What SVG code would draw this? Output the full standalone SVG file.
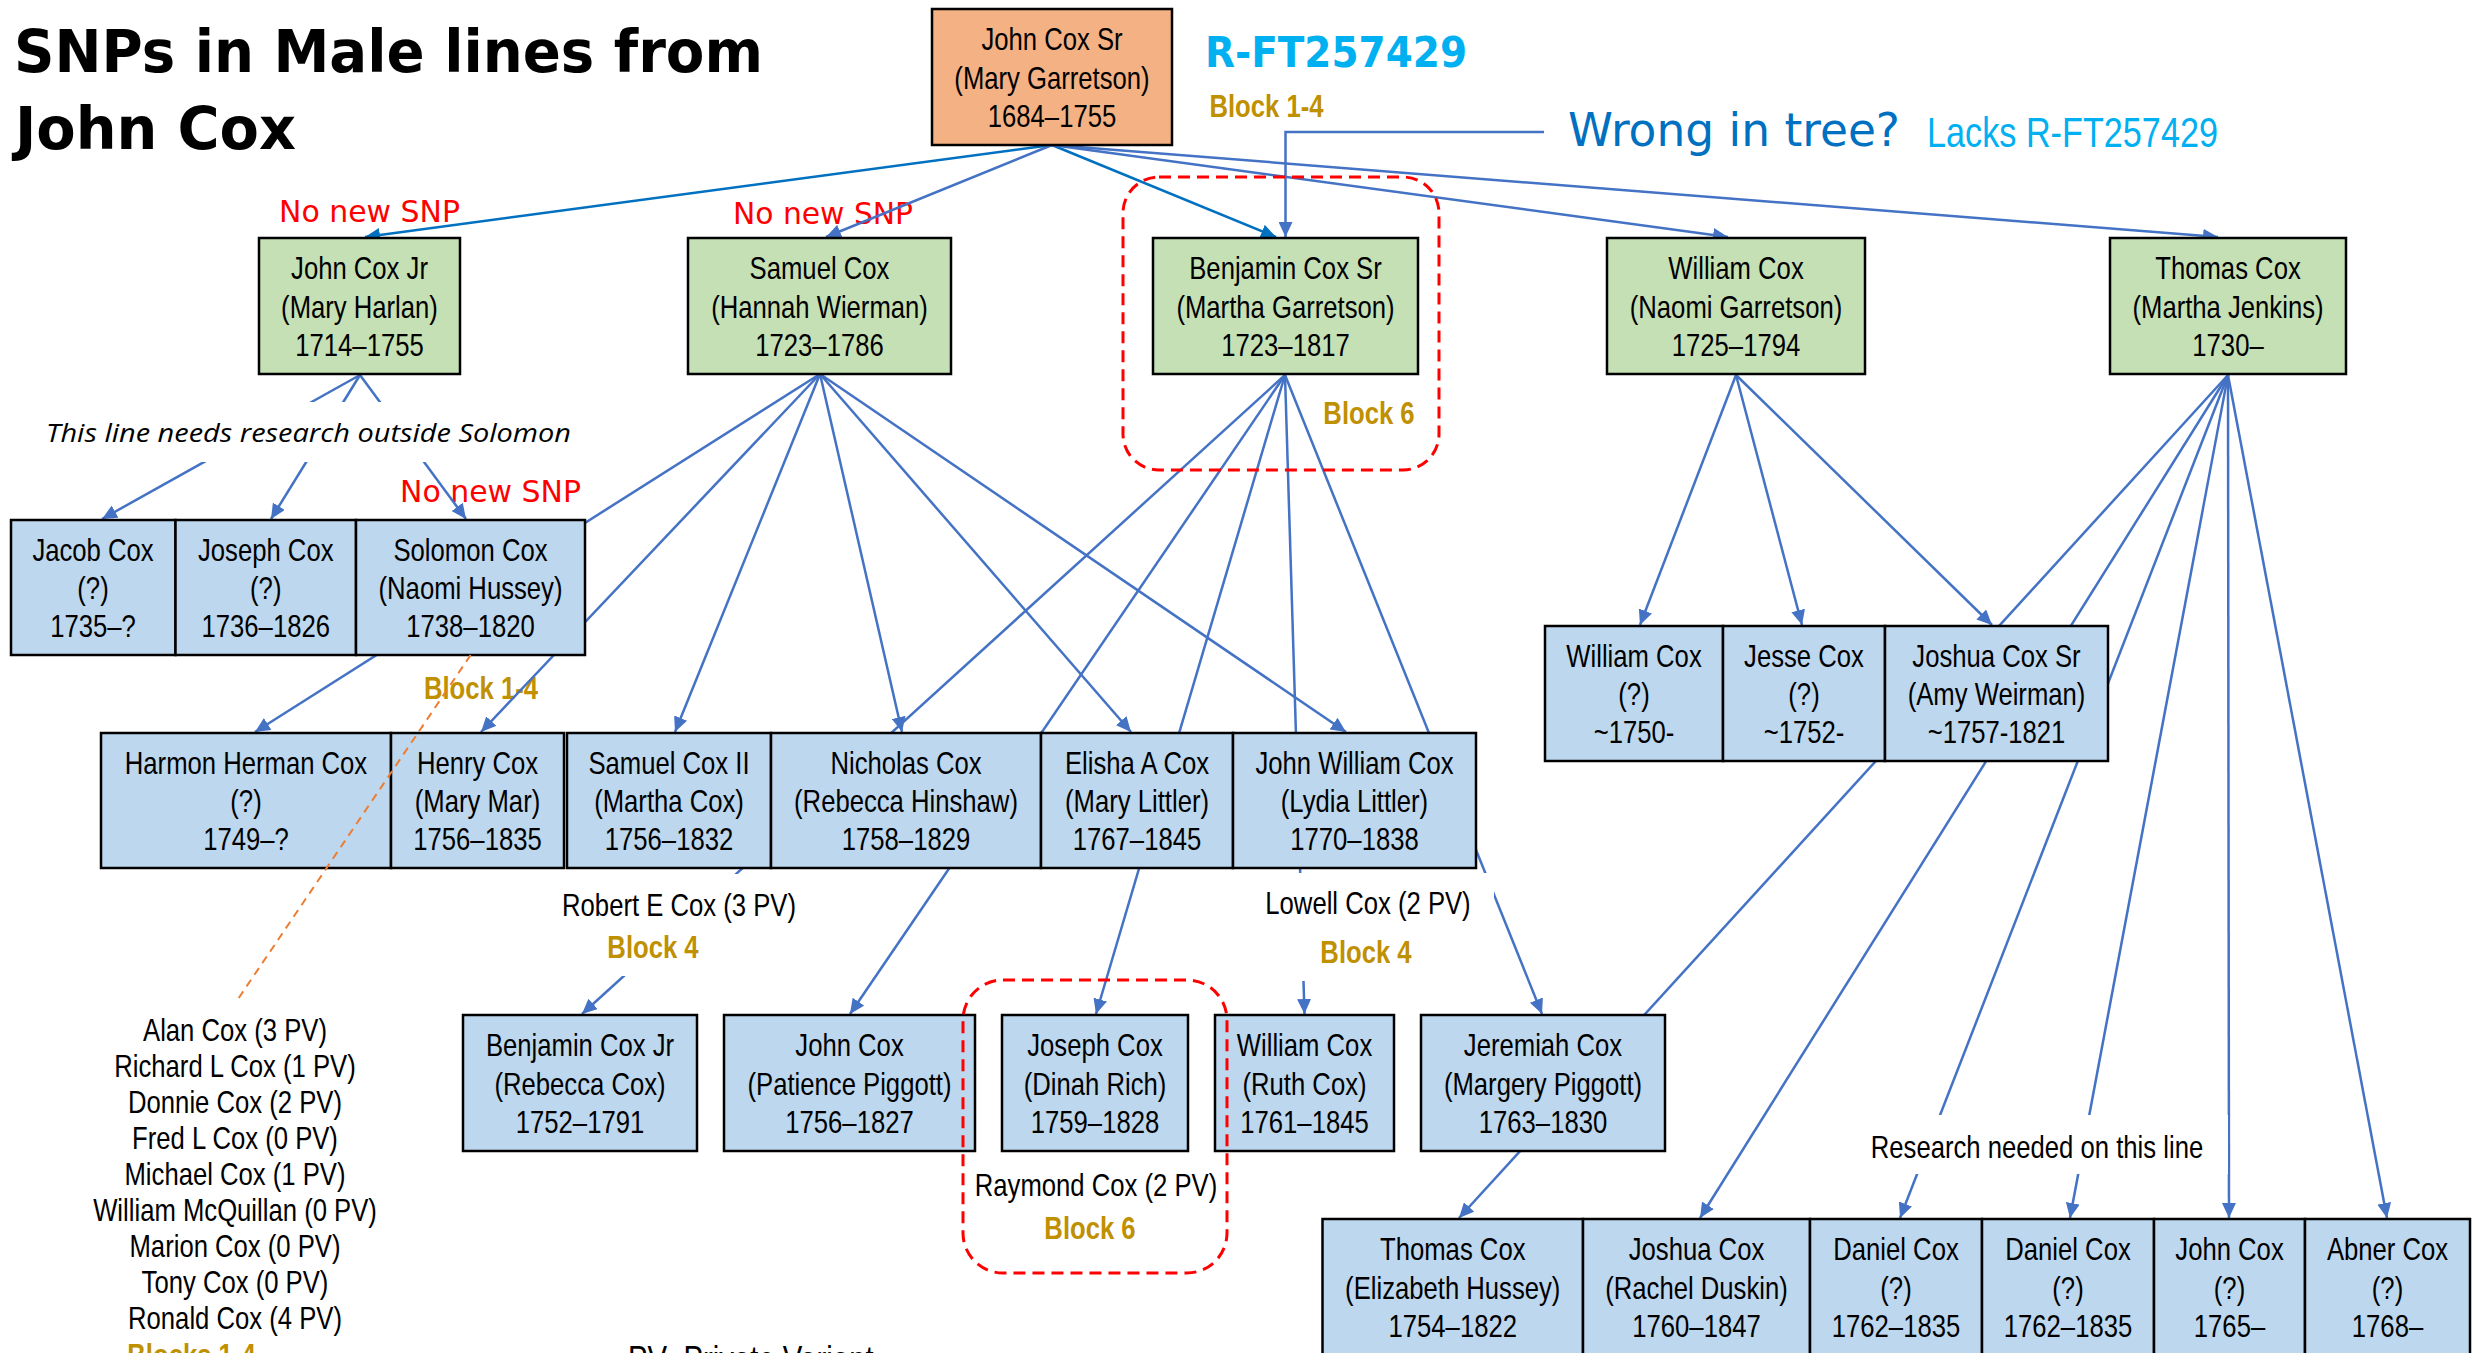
<svg xmlns="http://www.w3.org/2000/svg" width="2474" height="1353" viewBox="0 0 2474 1353">
<style>
  .box { stroke: #000; stroke-width: 2.5; }
  .green { fill: #C5E0B4; }
  .blue { fill: #BDD7EE; }
  .orange { fill: #F4B183; }
  .nt text, text.nl { font-family: 'Liberation Sans', Arial, sans-serif; font-size: 31.5px; text-anchor: middle; fill: #000; }
  .gold { fill: #BF9000 !important; font-weight: bold; }
  .red { font-family: 'Comic Sans MS', 'DejaVu Sans', sans-serif; font-size: 30px; fill: #FF0000; }
  .comic { font-family: 'Comic Sans MS', 'DejaVu Sans', sans-serif; }
  .wbg { fill: #FFFFFF; }
</style>
<defs>
  <marker id="ah" viewBox="0 0 15 14" refX="15" refY="7" markerWidth="15" markerHeight="14" markerUnits="userSpaceOnUse" orient="auto">
    <path d="M0,0 L15,7 L0,14 z" fill="#4472C4"/>
  </marker>
  <marker id="ahd" viewBox="0 0 15 14" refX="15" refY="7" markerWidth="15" markerHeight="14" markerUnits="userSpaceOnUse" orient="auto">
    <path d="M0,0 L15,7 L0,14 z" fill="#0070C0"/>
  </marker>
</defs>
<rect x="0" y="0" width="2474" height="1353" fill="#FFFFFF"/>

<!-- Title and annotations -->
<g id="title">
  <text class="comic" x="14" y="72" font-size="58" font-weight="bold" fill="#000" textLength="749" lengthAdjust="spacingAndGlyphs">SNPs in Male lines from</text>
  <text class="comic" x="15" y="149" font-size="58" font-weight="bold" fill="#000" textLength="281" lengthAdjust="spacingAndGlyphs">John Cox</text>
</g>
<g id="annotations">
  <text class="comic" x="1205" y="67" font-size="42" font-weight="bold" fill="#00B0F0" textLength="262" lengthAdjust="spacingAndGlyphs">R-FT257429</text>
  <text class="nl gold" transform="translate(1266.5 117) scale(0.815 1)">Block 1-4</text>
  <text class="comic" x="1568" y="146" font-size="46" fill="#0070C0" textLength="332" lengthAdjust="spacingAndGlyphs">Wrong in tree?</text>
  <text class="nl" transform="translate(1927 147) scale(0.815 1)" style="text-anchor:start;font-size:42px;fill:#00B0F0">Lacks R-FT257429</text>
  <text class="red" x="279" y="222" textLength="181" lengthAdjust="spacingAndGlyphs">No new SNP</text>
  <text class="red" x="733" y="224" textLength="180" lengthAdjust="spacingAndGlyphs">No new SNP</text>
  <text class="red" x="400" y="502" textLength="181" lengthAdjust="spacingAndGlyphs">No new SNP</text>
  <text class="nl gold" transform="translate(1369 424) scale(0.815 1)">Block 6</text>
  <text class="nl gold" transform="translate(481 699) scale(0.815 1)">Block 1-4</text>
  <g id="pv-list" transform="translate(235 0)">
    <text class="nl" transform="translate(0 1040.7) scale(0.815 1)">Alan Cox (3 PV)</text>
    <text class="nl" transform="translate(0 1076.7) scale(0.815 1)">Richard L Cox (1 PV)</text>
    <text class="nl" transform="translate(0 1112.7) scale(0.815 1)">Donnie Cox (2 PV)</text>
    <text class="nl" transform="translate(0 1149) scale(0.815 1)">Fred L Cox (0 PV)</text>
    <text class="nl" transform="translate(0 1185) scale(0.815 1)">Michael Cox (1 PV)</text>
    <text class="nl" transform="translate(0 1220.7) scale(0.815 1)">William McQuillan (0 PV)</text>
    <text class="nl" transform="translate(0 1256.7) scale(0.815 1)">Marion Cox (0 PV)</text>
    <text class="nl" transform="translate(0 1292.7) scale(0.815 1)">Tony Cox (0 PV)</text>
    <text class="nl" transform="translate(0 1328.5) scale(0.815 1)">Ronald Cox (4 PV)</text>
  </g>
  <text class="nl gold" transform="translate(191.5 1365.5) scale(0.815 1)">Blocks 1-4</text>
  <text class="nl" transform="translate(628 1372) scale(0.815 1)" style="text-anchor:start;font-size:36px">PV- Private Variant</text>
  <text class="nl" transform="translate(1096 1196) scale(0.815 1)">Raymond Cox (2 PV)</text>
  <text class="nl gold" transform="translate(1090 1239) scale(0.815 1)">Block 6</text>
</g>

<!-- Connectors -->
<g id="connectors" fill="none" stroke="#4472C4" stroke-width="2.5">
  <line x1="1052" y1="145" x2="365" y2="237" stroke="#0070C0" marker-end="url(#ahd)"/>
  <line x1="1052" y1="145" x2="826" y2="237" marker-end="url(#ah)"/>
  <line x1="1052" y1="145" x2="1276" y2="237" stroke="#0070C0" marker-end="url(#ahd)"/>
  <line x1="1052" y1="145" x2="1728" y2="237" marker-end="url(#ah)"/>
  <line x1="1052" y1="145" x2="2218" y2="237" marker-end="url(#ah)"/>
  <path d="M1544,132 H1285.5 V237" marker-end="url(#ah)"/>

  <line x1="360" y1="375" x2="102" y2="519" marker-end="url(#ah)"/>
  <line x1="360" y1="375" x2="271" y2="519" marker-end="url(#ah)"/>
  <line x1="360" y1="375" x2="466" y2="519" marker-end="url(#ah)"/>

  <line x1="820" y1="374" x2="255" y2="732" marker-end="url(#ah)"/>
  <line x1="820" y1="374" x2="481" y2="732" marker-end="url(#ah)"/>
  <line x1="820" y1="374" x2="675" y2="732" marker-end="url(#ah)"/>
  <line x1="820" y1="374" x2="902" y2="732" marker-end="url(#ah)"/>
  <line x1="820" y1="374" x2="1131" y2="732" marker-end="url(#ah)"/>
  <line x1="820" y1="374" x2="1346" y2="732" marker-end="url(#ah)"/>

  <line x1="1285" y1="375" x2="582" y2="1014" marker-end="url(#ah)"/>
  <line x1="1285" y1="375" x2="850" y2="1014" marker-end="url(#ah)"/>
  <line x1="1285" y1="375" x2="1096" y2="1014" marker-end="url(#ah)"/>
  <line x1="1285" y1="375" x2="1304.5" y2="1014" marker-end="url(#ah)"/>
  <line x1="1285" y1="375" x2="1542" y2="1014" marker-end="url(#ah)"/>

  <line x1="1736" y1="375" x2="1640" y2="625" marker-end="url(#ah)"/>
  <line x1="1736" y1="375" x2="1802" y2="625" marker-end="url(#ah)"/>
  <line x1="1736" y1="375" x2="1992" y2="625" marker-end="url(#ah)"/>

  <line x1="2228" y1="375" x2="1459" y2="1218" marker-end="url(#ah)"/>
  <line x1="2228" y1="375" x2="1700" y2="1218" marker-end="url(#ah)"/>
  <line x1="2228" y1="375" x2="1900" y2="1218" marker-end="url(#ah)"/>
  <line x1="2228" y1="375" x2="2070" y2="1218" marker-end="url(#ah)"/>
  <line x1="2228" y1="375" x2="2229" y2="1218" marker-end="url(#ah)"/>
  <line x1="2228" y1="375" x2="2387" y2="1218" marker-end="url(#ah)"/>
</g>

<!-- Labels that sit on top of connectors -->
<g id="label-outside-solomon">
  <rect class="wbg" x="40" y="402" width="540" height="60"/>
  <text x="46" y="441.6" font-family="'Open Sans', 'Liberation Sans', sans-serif" font-style="italic" font-size="26" fill="#000" textLength="525" lengthAdjust="spacingAndGlyphs">This line needs research outside Solomon</text>
</g>
<g id="label-robert">
  <rect class="wbg" x="555" y="874" width="250" height="102"/>
  <text class="nl" transform="translate(679 915.7) scale(0.815 1)">Robert E Cox (3 PV)</text>
  <text class="nl gold" transform="translate(653 958.3) scale(0.815 1)">Block 4</text>
</g>
<g id="label-lowell">
  <rect class="wbg" x="1255" y="873" width="239" height="108"/>
  <text class="nl" transform="translate(1368 913.6) scale(0.815 1)">Lowell Cox (2 PV)</text>
  <text class="nl gold" transform="translate(1366 962.7) scale(0.815 1)">Block 4</text>
</g>
<g id="label-research">
  <rect class="wbg" x="1860" y="1115" width="368" height="59"/>
  <text class="nl" transform="translate(2037 1157.7) scale(0.815 1)">Research needed on this line</text>
</g>

<!-- Nodes -->
<g id="n-john-cox-sr"><rect class="box orange" x="932" y="9" width="240" height="136"/>
  <g class="nt" transform="translate(1052 77) scale(0.815 1)"><text y="-27">John Cox Sr</text><text y="11.5">(Mary Garretson)</text><text y="50">1684–1755</text></g></g>

<g id="n-john-cox-jr"><rect class="box green" x="259" y="238" width="201" height="136"/>
  <g class="nt" transform="translate(359.5 306) scale(0.815 1)"><text y="-27">John Cox Jr</text><text y="11.5">(Mary Harlan)</text><text y="50">1714–1755</text></g></g>
<g id="n-samuel-cox"><rect class="box green" x="688" y="238" width="263" height="136"/>
  <g class="nt" transform="translate(819.5 306) scale(0.815 1)"><text y="-27">Samuel Cox</text><text y="11.5">(Hannah Wierman)</text><text y="50">1723–1786</text></g></g>
<g id="n-benjamin-cox-sr"><rect class="box green" x="1153" y="238" width="265" height="136"/>
  <g class="nt" transform="translate(1285.5 306) scale(0.815 1)"><text y="-27">Benjamin Cox Sr</text><text y="11.5">(Martha Garretson)</text><text y="50">1723–1817</text></g></g>
<g id="n-william-cox"><rect class="box green" x="1607" y="238" width="258" height="136"/>
  <g class="nt" transform="translate(1736 306) scale(0.815 1)"><text y="-27">William Cox</text><text y="11.5">(Naomi Garretson)</text><text y="50">1725–1794</text></g></g>
<g id="n-thomas-cox"><rect class="box green" x="2110" y="238" width="236" height="136"/>
  <g class="nt" transform="translate(2228 306) scale(0.815 1)"><text y="-27">Thomas Cox</text><text y="11.5">(Martha Jenkins)</text><text y="50">1730–</text></g></g>

<g id="n-jacob-cox"><rect class="box blue" x="11" y="520" width="164.5" height="135"/>
  <g class="nt" transform="translate(93 587.5) scale(0.815 1)"><text y="-27">Jacob Cox</text><text y="11.5">(?)</text><text y="50">1735–?</text></g></g>
<g id="n-joseph-cox-1736"><rect class="box blue" x="175.5" y="520" width="180.5" height="135"/>
  <g class="nt" transform="translate(265.75 587.5) scale(0.815 1)"><text y="-27">Joseph Cox</text><text y="11.5">(?)</text><text y="50">1736–1826</text></g></g>
<g id="n-solomon-cox"><rect class="box blue" x="356" y="520" width="229" height="135"/>
  <g class="nt" transform="translate(470.5 587.5) scale(0.815 1)"><text y="-27">Solomon Cox</text><text y="11.5">(Naomi Hussey)</text><text y="50">1738–1820</text></g></g>

<g id="n-harmon-cox"><rect class="box blue" x="101" y="733" width="290" height="135"/>
  <g class="nt" transform="translate(246 800.5) scale(0.815 1)"><text y="-27">Harmon Herman Cox</text><text y="11.5">(?)</text><text y="50">1749–?</text></g></g>
<g id="n-henry-cox"><rect class="box blue" x="391" y="733" width="173" height="135"/>
  <g class="nt" transform="translate(477.5 800.5) scale(0.815 1)"><text y="-27">Henry Cox</text><text y="11.5">(Mary Mar)</text><text y="50">1756–1835</text></g></g>
<g id="n-samuel-cox-ii"><rect class="box blue" x="567" y="733" width="204" height="135"/>
  <g class="nt" transform="translate(669 800.5) scale(0.815 1)"><text y="-27">Samuel Cox II</text><text y="11.5">(Martha Cox)</text><text y="50">1756–1832</text></g></g>
<g id="n-nicholas-cox"><rect class="box blue" x="771" y="733" width="270" height="135"/>
  <g class="nt" transform="translate(906 800.5) scale(0.815 1)"><text y="-27">Nicholas Cox</text><text y="11.5">(Rebecca Hinshaw)</text><text y="50">1758–1829</text></g></g>
<g id="n-elisha-cox"><rect class="box blue" x="1041" y="733" width="192" height="135"/>
  <g class="nt" transform="translate(1137 800.5) scale(0.815 1)"><text y="-27">Elisha A Cox</text><text y="11.5">(Mary Littler)</text><text y="50">1767–1845</text></g></g>
<g id="n-john-william-cox"><rect class="box blue" x="1233" y="733" width="243" height="135"/>
  <g class="nt" transform="translate(1354.5 800.5) scale(0.815 1)"><text y="-27">John William Cox</text><text y="11.5">(Lydia Littler)</text><text y="50">1770–1838</text></g></g>

<g id="n-william-cox-1750"><rect class="box blue" x="1545" y="626" width="178" height="135"/>
  <g class="nt" transform="translate(1634 693.5) scale(0.815 1)"><text y="-27">William Cox</text><text y="11.5">(?)</text><text y="50">~1750-</text></g></g>
<g id="n-jesse-cox"><rect class="box blue" x="1723" y="626" width="162" height="135"/>
  <g class="nt" transform="translate(1804 693.5) scale(0.815 1)"><text y="-27">Jesse Cox</text><text y="11.5">(?)</text><text y="50">~1752-</text></g></g>
<g id="n-joshua-cox-sr"><rect class="box blue" x="1885" y="626" width="223" height="135"/>
  <g class="nt" transform="translate(1996.5 693.5) scale(0.815 1)"><text y="-27">Joshua Cox Sr</text><text y="11.5">(Amy Weirman)</text><text y="50">~1757-1821</text></g></g>

<g id="n-benjamin-cox-jr"><rect class="box blue" x="463" y="1015" width="234" height="136"/>
  <g class="nt" transform="translate(580 1083) scale(0.815 1)"><text y="-27">Benjamin Cox Jr</text><text y="11.5">(Rebecca Cox)</text><text y="50">1752–1791</text></g></g>
<g id="n-john-cox-1756"><rect class="box blue" x="724" y="1015" width="251" height="136"/>
  <g class="nt" transform="translate(849.5 1083) scale(0.815 1)"><text y="-27">John Cox</text><text y="11.5">(Patience Piggott)</text><text y="50">1756–1827</text></g></g>
<g id="n-joseph-cox-1759"><rect class="box blue" x="1002" y="1015" width="186" height="136"/>
  <g class="nt" transform="translate(1095 1083) scale(0.815 1)"><text y="-27">Joseph Cox</text><text y="11.5">(Dinah Rich)</text><text y="50">1759–1828</text></g></g>
<g id="n-william-cox-1761"><rect class="box blue" x="1215" y="1015" width="179" height="136"/>
  <g class="nt" transform="translate(1304.5 1083) scale(0.815 1)"><text y="-27">William Cox</text><text y="11.5">(Ruth Cox)</text><text y="50">1761–1845</text></g></g>
<g id="n-jeremiah-cox"><rect class="box blue" x="1421" y="1015" width="244" height="136"/>
  <g class="nt" transform="translate(1543 1083) scale(0.815 1)"><text y="-27">Jeremiah Cox</text><text y="11.5">(Margery Piggott)</text><text y="50">1763–1830</text></g></g>

<g id="n-thomas-cox-1754"><rect class="box blue" x="1322.5" y="1219" width="260.5" height="145"/>
  <g class="nt" transform="translate(1452.75 1287) scale(0.815 1)"><text y="-27">Thomas Cox</text><text y="11.5">(Elizabeth Hussey)</text><text y="50">1754–1822</text></g></g>
<g id="n-joshua-cox-1760"><rect class="box blue" x="1583" y="1219" width="227" height="145"/>
  <g class="nt" transform="translate(1696.5 1287) scale(0.815 1)"><text y="-27">Joshua Cox</text><text y="11.5">(Rachel Duskin)</text><text y="50">1760–1847</text></g></g>
<g id="n-daniel-cox-a"><rect class="box blue" x="1810" y="1219" width="172" height="145"/>
  <g class="nt" transform="translate(1896 1287) scale(0.815 1)"><text y="-27">Daniel Cox</text><text y="11.5">(?)</text><text y="50">1762–1835</text></g></g>
<g id="n-daniel-cox-b"><rect class="box blue" x="1982" y="1219" width="172" height="145"/>
  <g class="nt" transform="translate(2068 1287) scale(0.815 1)"><text y="-27">Daniel Cox</text><text y="11.5">(?)</text><text y="50">1762–1835</text></g></g>
<g id="n-john-cox-1765"><rect class="box blue" x="2154" y="1219" width="151" height="145"/>
  <g class="nt" transform="translate(2229.5 1287) scale(0.815 1)"><text y="-27">John Cox</text><text y="11.5">(?)</text><text y="50">1765–</text></g></g>
<g id="n-abner-cox"><rect class="box blue" x="2305" y="1219" width="165" height="145"/>
  <g class="nt" transform="translate(2387.5 1287) scale(0.815 1)"><text y="-27">Abner Cox</text><text y="11.5">(?)</text><text y="50">1768–</text></g></g>

<!-- Overlays -->
<g id="overlays" fill="none">
  <rect x="1123" y="177" width="316" height="293" rx="36" ry="36" stroke="#FF0000" stroke-width="3" stroke-dasharray="12 7"/>
  <rect x="963" y="980" width="264" height="293" rx="40" ry="40" stroke="#FF0000" stroke-width="3" stroke-dasharray="12 7"/>
  <line x1="470.6" y1="655" x2="238.7" y2="998" stroke="#ED7D31" stroke-width="2" stroke-dasharray="8 6"/>
</g>
</svg>
